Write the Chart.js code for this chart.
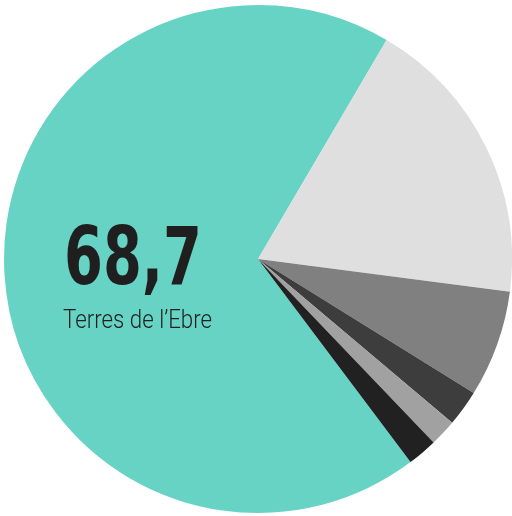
<!DOCTYPE html>
<html lang="ca">
<head>
    <meta charset="UTF-8">
    <title>Terres de l'Ebre</title>
    <script src="https://cdn.jsdelivr.net/npm/chart.js"></script>
    <style>
        body {
            margin: 0;
            background: #ffffff;
        }
        canvas {
            display: block;
        }
    </style>
</head>
<body>
    <canvas id="pieChart" width="512" height="516"></canvas>

    <script>
        const labels = ["Terres de l'Ebre", "B", "C", "D", "E", "F"];
        const values = [68.7, 18.6, 6.8, 2.3, 1.7, 1.9];
        const colors = ["#67d3c4", "#dfdfdf", "#808080", "#3d3d3d", "#a1a1a1", "#212121"];
        const bigLabel = "68,7";
        const smallLabel = "Terres de l\u2019Ebre";

        // draw the value and name over the teal slice
        const centerText = {
            id: "centerText",
            afterDraw(chart) {
                const ctx = chart.ctx;
                ctx.save();
                ctx.fillStyle = "#1f1f1f";
                ctx.textBaseline = "alphabetic";

                ctx.font = "bold 80px 'DejaVu Sans'";
                let w = ctx.measureText(bigLabel).width;
                ctx.save();
                ctx.translate(64, 284);
                ctx.scale(138 / w, 1);
                ctx.fillText(bigLabel, 0, 0);
                ctx.restore();

                ctx.font = "300 26px Roboto";
                w = ctx.measureText(smallLabel).width;
                ctx.save();
                ctx.translate(63, 328);
                ctx.scale(149 / w, 1);
                ctx.fillText(smallLabel, 0, 0);
                ctx.restore();

                ctx.restore();
            }
        };

        new Chart(document.getElementById("pieChart"), {
            type: "pie",
            data: {
                labels,
                datasets: [{
                    data: values,
                    backgroundColor: colors,
                    borderWidth: 0
                }]
            },
            options: {
                responsive: false,
                animation: false,
                rotation: 143.1,
                layout: { padding: { left: 4, right: 0, top: 5, bottom: 3 } },
                plugins: {
                    legend: { display: false },
                    tooltip: { enabled: false }
                }
            },
            plugins: [centerText]
        });
    </script>
</body>
</html>
